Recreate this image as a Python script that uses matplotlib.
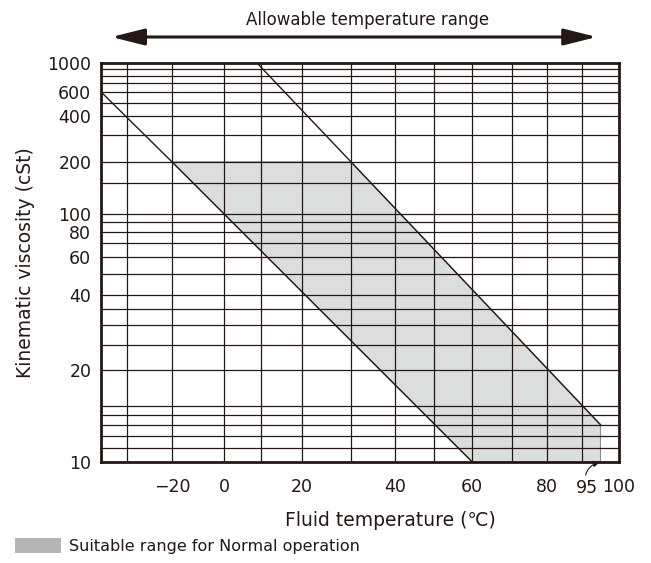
import numpy as np
import matplotlib
matplotlib.use("Agg")
import matplotlib.pyplot as plt
from matplotlib.patches import Polygon, Patch
from matplotlib.ticker import FixedLocator, FixedFormatter, NullLocator
import matplotlib.transforms as mtransforms

# ---------------- data ----------------
X_TICKS = [-20, 0, 20, 40, 60, 80, 100]
X_TICK_LABELS = ["\u221220", "0", "20", "40", "60", "80", "100"]
Y_TICKS = [10, 20, 40, 60, 80, 100, 200, 400, 600, 1000]
Y_TICK_LABELS = ["10", "20", "40", "60", "80", "100", "200", "400", "600", "1000"]
X_GRID = [-30, -20, 0, 10, 20, 30, 40, 50, 60, 70, 80, 90]
Y_GRID = [11, 12, 13, 14, 15, 20, 25, 30, 35, 40, 50, 60, 70, 80, 90,
          100, 150, 200, 300, 400, 500, 600, 700, 800, 900]

LOWER_T = [-40, -20, 60]
LOWER_V = [600, 200, 10]
UPPER_T = [9, 30, 95]
UPPER_V = [1000, 200, 13]
RANGE_T = [-20, 30, 95, 95, 60]
RANGE_V = [200, 200, 13, 10, 10]
ALLOWABLE_T = [-36, 94]
NORMAL_LIMIT_T = 95

# ---------------- chart scales ----------------
# irregular temperature axis of the original chart (knots -> axis fraction)
SCALE_T = [-40, -30, -20, 0, 10, 20, 30, 40, 50, 60, 70, 80, 90, 100]
SCALE_U = np.array([0, 26, 71, 123, 160, 201, 250, 294, 333, 371, 411, 446, 481, 518]) / 518.0


def t_fwd(t):
    return np.interp(np.asarray(t, float), SCALE_T, SCALE_U)


def t_inv(u):
    return np.interp(np.asarray(u, float), SCALE_U, SCALE_T)


# ASTM D341 style viscosity axis
def v_fwd(v):
    v = np.maximum(np.asarray(v, float), 1.0)
    return np.log10(np.log10(v + 0.7))


def v_inv(y):
    return 10 ** (10 ** np.asarray(y, float)) - 0.7


INK = "#231815"
plt.rcParams["font.family"] = ["DejaVu Sans"]

fig = plt.figure(figsize=(6.51, 5.63), dpi=100)
ax = fig.add_axes([101 / 651, 1 - 461.7 / 563, 518 / 651, 398.4 / 563])
ax.set_xscale("function", functions=(t_fwd, t_inv))
ax.set_yscale("function", functions=(v_fwd, v_inv))
ax.set_xlim(-40, 100)
ax.set_ylim(10, 1000)

# grid
for t in X_GRID:
    ax.axvline(t, color=INK, lw=0.9, zorder=1)
for v in Y_GRID:
    ax.axhline(v, color=INK, lw=0.9, zorder=1)

# suitable range
ax.add_patch(Polygon(np.column_stack([RANGE_T, RANGE_V]), closed=True,
                     facecolor="#dcdddd", edgecolor="#8c8c8c", lw=0.8, zorder=0.5))

# viscosity lines
ax.plot(LOWER_T, LOWER_V, color=INK, lw=1.0, zorder=3)
ax.plot(UPPER_T, UPPER_V, color=INK, lw=1.0, zorder=3)

# ticks
ax.xaxis.set_major_locator(FixedLocator(X_TICKS))
ax.xaxis.set_major_formatter(FixedFormatter(X_TICK_LABELS))
ax.yaxis.set_major_locator(FixedLocator(Y_TICKS))
ax.yaxis.set_major_formatter(FixedFormatter(Y_TICK_LABELS))
ax.xaxis.set_minor_locator(NullLocator())
ax.yaxis.set_minor_locator(NullLocator())
ax.tick_params(axis="x", length=0, pad=12, labelsize=12.5, colors=INK)
ax.tick_params(axis="y", length=0, pad=7, labelsize=12.5, colors=INK)

for s in ax.spines.values():
    s.set_linewidth(2.0)
    s.set_color(INK)
    s.set_zorder(4)

ax.set_xlabel("Fluid temperature (\u2103)", fontsize=13.5, color=INK)
ax.xaxis.set_label_coords(0.558, -0.123)
ax.set_ylabel("Kinematic viscosity (cSt)", fontsize=13.5, color=INK, labelpad=9)

# 95 marker
ax.annotate("95", xy=(NORMAL_LIMIT_T, 10), xycoords="data",
            xytext=(-10, -19), textcoords="offset points",
            ha="center", va="center", fontsize=12.5, color=INK,
            arrowprops=dict(arrowstyle="-|>,head_length=0.35,head_width=0.15",
                            color=INK, lw=0.8, shrinkA=1, shrinkB=0,
                            connectionstyle="arc3,rad=-0.5"))

# allowable temperature range arrow
trans = mtransforms.blended_transform_factory(ax.transData, ax.transAxes)
ax.annotate("", xy=(ALLOWABLE_T[1], 1.066), xycoords=trans,
            xytext=(ALLOWABLE_T[0], 1.066), textcoords=trans,
            arrowprops=dict(arrowstyle="<|-|>,head_length=1.0,head_width=0.25",
                            mutation_scale=20, color=INK, lw=2.2,
                            shrinkA=0, shrinkB=0), annotation_clip=False)
ax.text(0.515, 1.109, "Allowable temperature range", transform=ax.transAxes,
        ha="center", va="center", fontsize=12, color=INK)

# legend
fig.legend(handles=[Patch(facecolor="#b5b5b5", edgecolor="none",
                          label="Suitable range for Normal operation")],
           loc="center left", bbox_to_anchor=(15 / 651, 1 - 546 / 563),
           bbox_transform=fig.transFigure, frameon=False, fontsize=11.5,
           handlelength=2.9, handleheight=1.1, handletextpad=0.45,
           borderpad=0, borderaxespad=0, labelcolor=INK)

fig.savefig("out.png", dpi=100)
